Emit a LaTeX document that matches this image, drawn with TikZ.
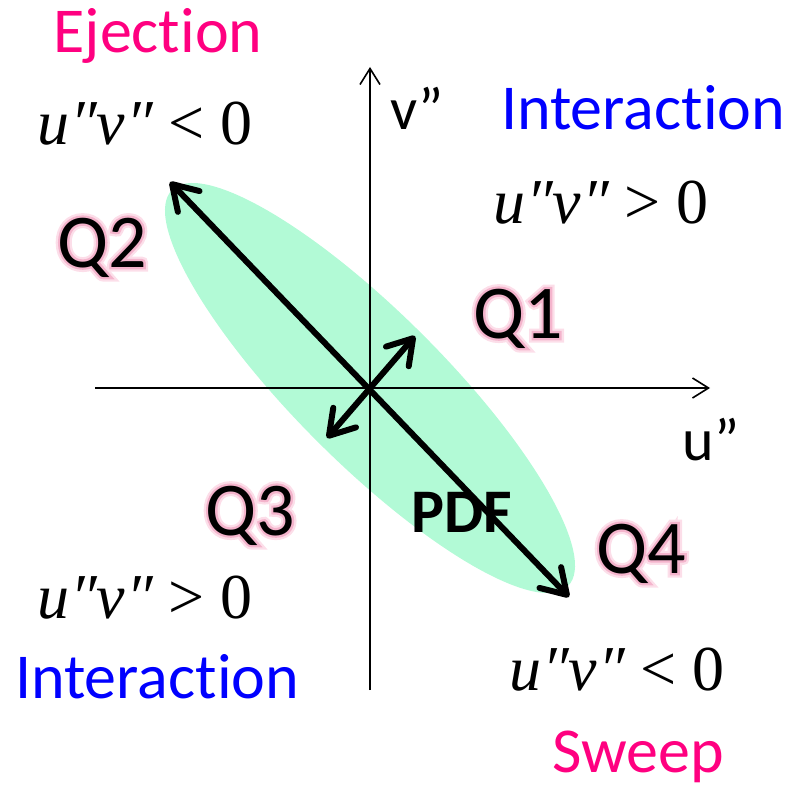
\documentclass[tikz,border=0pt]{standalone}
\usepackage{fontspec}
\setmainfont{Carlito}[Ligatures=NoCommon]
\newfontfamily\eqfont{Liberation Serif}
\newfontfamily\haloout{Carlito}[FakeBold=12]
\newfontfamily\haloin{Carlito}[FakeBold=6]
\usepackage{xcolor}
\usepackage{tikz}
\usetikzlibrary{arrows.meta}
\definecolor{ejpink}{RGB}{255,0,128}
\definecolor{intblue}{RGB}{0,0,255}
\definecolor{glowout}{RGB}{252,222,233}
\definecolor{glowin}{RGB}{244,180,204}
\definecolor{pdfgreen}{RGB}{178,250,214}
\tikzset{
  txt/.style   ={inner sep=0pt,anchor=base},
  regname/.style={txt,font=\fontsize{64}{70}\selectfont},
  ej/.style    ={regname,text=ejpink},
  intr/.style  ={regname,text=intblue},
  eqn/.style   ={txt,font=\eqfont\fontsize{64}{70}\selectfont},
  qtext/.style ={txt,font=\fontsize{76}{80}\selectfont},
  axlab/.style ={txt,font=\fontsize{60}{70}\selectfont},
  pdflab/.style={txt,font=\bfseries\fontsize{62}{70}\selectfont},
  axis/.style  ={line width=1.6pt,-{Straight Barb[length=16pt,width=20pt]}},
  ar/.style    ={line width=6pt,{Straight Barb[length=24pt,width=30pt,round]}-{Straight Barb[length=24pt,width=30pt,round]}},
}
% soft pink halo behind a quadrant name
\newcommand{\halo}[1]{%
  \makebox[0pt][l]{\haloout\color{glowout}#1}%
  \makebox[0pt][l]{\haloin\color{glowin}#1}%
  #1}
\newcommand{\uv}[1]{{\itshape u\kern1pt″v\kern1pt″} #1 0}

\begin{document}
\begin{tikzpicture}[x=1pt,y=-1pt]
  \useasboundingbox (0,0) rectangle (792,789);
  \coordinate (o) at (370,388);
  % joint pdf
  \fill[pdfgreen,rotate around={-45:(o)}] (o) ellipse (280 and 75);
  % axes
  \coordinate (ul) at (95,388);  \coordinate (ur) at (710,388);
  \coordinate (vb) at (370,690); \coordinate (vt) at (370,67);
  \draw[axis] (ul) -- (ur);
  \draw[axis] (vb) -- (vt);
  \node[axlab] (ulab) at (711,460) {u”};
  \node[axlab] (vlab) at (417,130) {v”};
  % principal directions
  \coordinate (ejtip) at (170,182); \coordinate (swtip) at (569,597);
  \coordinate (q1tip) at (415,336); \coordinate (q3tip) at (327,438);
  \draw[ar] (swtip) -- (ejtip);
  \draw[ar] (q3tip) -- (q1tip);
  \node[pdflab] (pdf) at (462,532) {PDF};
  % quadrants
  \node[qtext] (q1) at (518,338) {\halo{Q1}};
  \node[qtext] (q2) at (102,267) {\halo{Q2}};
  \node[qtext] (q3) at (250,535) {\halo{Q3}};
  \node[qtext] (q4) at (641,573) {\halo{Q4}};
  \node[ej]   (ejec)  at (158,53)  {Ejection};
  \node[eqn]  (eq2)   at (145,145) {\uv{<}};
  \node[intr] (int1)  at (643,130) {Interaction};
  \node[eqn]  (eq1)   at (601,223) {\uv{>}};
  \node[eqn]  (eq3)   at (145,618) {\uv{>}};
  \node[intr] (int3)  at (157,698) {Interaction};
  \node[eqn]  (eq4)   at (617,690) {\uv{<}};
  \node[ej]   (sweep) at (638,772) {Sweep};
\end{tikzpicture}
\end{document}
